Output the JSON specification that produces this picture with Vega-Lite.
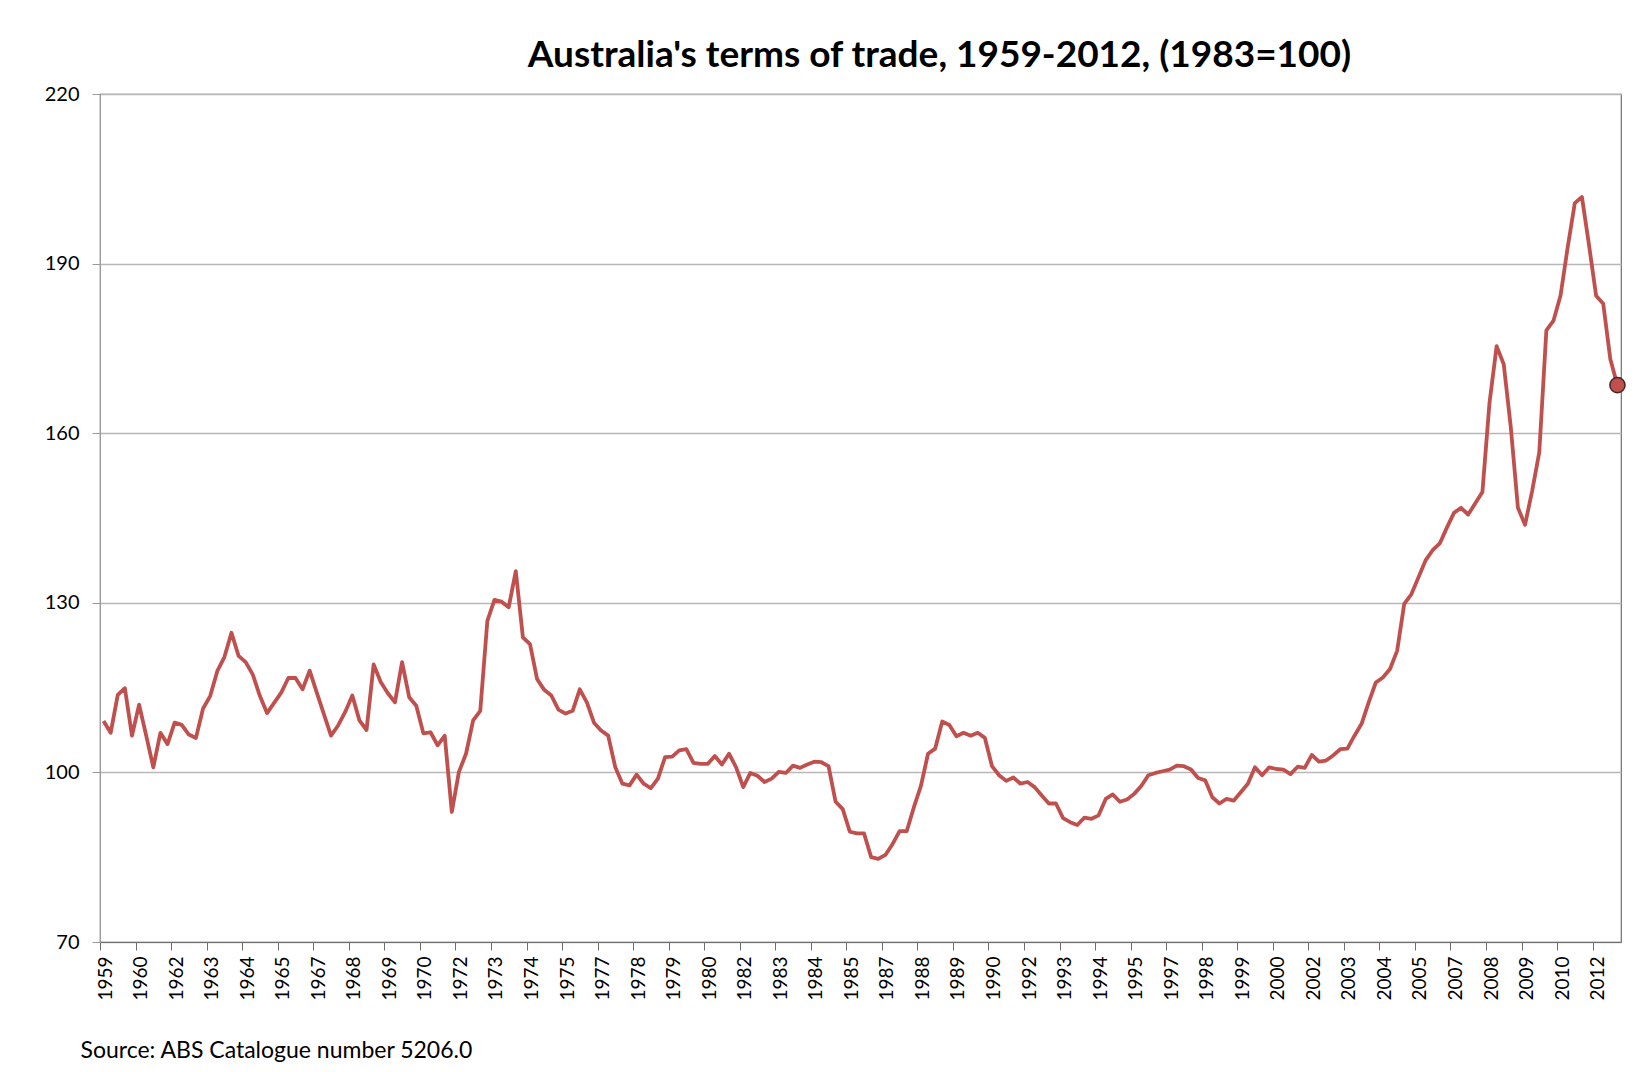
{
  "$schema": "https://vega.github.io/schema/vega-lite/v6.json",
  "width": 1521,
  "height": 848,
  "autosize": {"type": "none"},
  "padding": {"left": 100, "top": 94, "right": 28, "bottom": 130},
  "background": "white",
  "title": {"text": "Australia's terms of trade, 1959-2012, (1983=100)", "font": "Lato", "fontSize": 37, "fontWeight": "bold", "color": "#000000", "anchor": "middle", "dx": 79, "dy": 46, "offset": 26, "baseline": "alphabetic"},
  "config": {"view": {"stroke": "#6f6f6f", "strokeWidth": 1.2}, "font": "Lato"},
  "data": {"values": [
    {"q":"1959Q3","v":109.1},{"q":"1959Q4","v":107.0},{"q":"1960Q1","v":113.7},{"q":"1960Q2","v":114.9},{"q":"1960Q3","v":106.5},{"q":"1960Q4","v":112.0},{"q":"1961Q1","v":106.5},{"q":"1961Q2","v":100.9},{"q":"1961Q3","v":107.0},{"q":"1961Q4","v":105.0},
    {"q":"1962Q1","v":108.8},{"q":"1962Q2","v":108.4},{"q":"1962Q3","v":106.7},{"q":"1962Q4","v":106.1},{"q":"1963Q1","v":111.3},{"q":"1963Q2","v":113.5},{"q":"1963Q3","v":117.9},{"q":"1963Q4","v":120.4},{"q":"1964Q1","v":124.7},{"q":"1964Q2","v":120.6},
    {"q":"1964Q3","v":119.5},{"q":"1964Q4","v":117.3},{"q":"1965Q1","v":113.5},{"q":"1965Q2","v":110.5},{"q":"1965Q3","v":112.3},{"q":"1965Q4","v":114.1},{"q":"1966Q1","v":116.7},{"q":"1966Q2","v":116.7},{"q":"1966Q3","v":114.7},{"q":"1966Q4","v":118.0},
    {"q":"1967Q1","v":114.1},{"q":"1967Q2","v":110.3},{"q":"1967Q3","v":106.5},{"q":"1967Q4","v":108.3},{"q":"1968Q1","v":110.7},{"q":"1968Q2","v":113.6},{"q":"1968Q3","v":109.2},{"q":"1968Q4","v":107.5},{"q":"1969Q1","v":119.1},{"q":"1969Q2","v":116.0},
    {"q":"1969Q3","v":114.0},{"q":"1969Q4","v":112.4},{"q":"1970Q1","v":119.5},{"q":"1970Q2","v":113.3},{"q":"1970Q3","v":111.8},{"q":"1970Q4","v":106.9},{"q":"1971Q1","v":107.1},{"q":"1971Q2","v":104.8},{"q":"1971Q3","v":106.5},{"q":"1971Q4","v":93.0},
    {"q":"1972Q1","v":100.1},{"q":"1972Q2","v":103.3},{"q":"1972Q3","v":109.2},{"q":"1972Q4","v":110.9},{"q":"1973Q1","v":126.8},{"q":"1973Q2","v":130.5},{"q":"1973Q3","v":130.2},{"q":"1973Q4","v":129.2},{"q":"1974Q1","v":135.6},{"q":"1974Q2","v":123.9},
    {"q":"1974Q3","v":122.7},{"q":"1974Q4","v":116.5},{"q":"1975Q1","v":114.6},{"q":"1975Q2","v":113.6},{"q":"1975Q3","v":111.1},{"q":"1975Q4","v":110.4},{"q":"1976Q1","v":110.9},{"q":"1976Q2","v":114.7},{"q":"1976Q3","v":112.4},{"q":"1976Q4","v":108.8},
    {"q":"1977Q1","v":107.4},{"q":"1977Q2","v":106.5},{"q":"1977Q3","v":100.9},{"q":"1977Q4","v":98.0},{"q":"1978Q1","v":97.7},{"q":"1978Q2","v":99.6},{"q":"1978Q3","v":98.0},{"q":"1978Q4","v":97.2},{"q":"1979Q1","v":98.9},{"q":"1979Q2","v":102.7},
    {"q":"1979Q3","v":102.8},{"q":"1979Q4","v":103.9},{"q":"1980Q1","v":104.1},{"q":"1980Q2","v":101.7},{"q":"1980Q3","v":101.5},{"q":"1980Q4","v":101.5},{"q":"1981Q1","v":102.9},{"q":"1981Q2","v":101.4},{"q":"1981Q3","v":103.3},{"q":"1981Q4","v":100.9},
    {"q":"1982Q1","v":97.4},{"q":"1982Q2","v":99.9},{"q":"1982Q3","v":99.4},{"q":"1982Q4","v":98.3},{"q":"1983Q1","v":98.9},{"q":"1983Q2","v":100.1},{"q":"1983Q3","v":99.9},{"q":"1983Q4","v":101.2},{"q":"1984Q1","v":100.8},{"q":"1984Q2","v":101.4},
    {"q":"1984Q3","v":101.9},{"q":"1984Q4","v":101.8},{"q":"1985Q1","v":101.1},{"q":"1985Q2","v":94.8},{"q":"1985Q3","v":93.5},{"q":"1985Q4","v":89.5},{"q":"1986Q1","v":89.2},{"q":"1986Q2","v":89.2},{"q":"1986Q3","v":85.0},{"q":"1986Q4","v":84.7},
    {"q":"1987Q1","v":85.4},{"q":"1987Q2","v":87.3},{"q":"1987Q3","v":89.6},{"q":"1987Q4","v":89.6},{"q":"1988Q1","v":93.8},{"q":"1988Q2","v":97.6},{"q":"1988Q3","v":103.3},{"q":"1988Q4","v":104.2},{"q":"1989Q1","v":109.0},{"q":"1989Q2","v":108.4},
    {"q":"1989Q3","v":106.4},{"q":"1989Q4","v":107.0},{"q":"1990Q1","v":106.5},{"q":"1990Q2","v":107.0},{"q":"1990Q3","v":106.1},{"q":"1990Q4","v":101.1},{"q":"1991Q1","v":99.5},{"q":"1991Q2","v":98.5},{"q":"1991Q3","v":99.1},{"q":"1991Q4","v":98.0},
    {"q":"1992Q1","v":98.3},{"q":"1992Q2","v":97.4},{"q":"1992Q3","v":95.9},{"q":"1992Q4","v":94.5},{"q":"1993Q1","v":94.5},{"q":"1993Q2","v":91.9},{"q":"1993Q3","v":91.2},{"q":"1993Q4","v":90.7},{"q":"1994Q1","v":92.0},{"q":"1994Q2","v":91.8},
    {"q":"1994Q3","v":92.4},{"q":"1994Q4","v":95.3},{"q":"1995Q1","v":96.1},{"q":"1995Q2","v":94.8},{"q":"1995Q3","v":95.2},{"q":"1995Q4","v":96.2},{"q":"1996Q1","v":97.6},{"q":"1996Q2","v":99.5},{"q":"1996Q3","v":99.9},{"q":"1996Q4","v":100.2},
    {"q":"1997Q1","v":100.5},{"q":"1997Q2","v":101.2},{"q":"1997Q3","v":101.1},{"q":"1997Q4","v":100.5},{"q":"1998Q1","v":99.0},{"q":"1998Q2","v":98.6},{"q":"1998Q3","v":95.6},{"q":"1998Q4","v":94.5},{"q":"1999Q1","v":95.3},{"q":"1999Q2","v":95.0},
    {"q":"1999Q3","v":96.5},{"q":"1999Q4","v":98.0},{"q":"2000Q1","v":100.9},{"q":"2000Q2","v":99.5},{"q":"2000Q3","v":100.9},{"q":"2000Q4","v":100.6},{"q":"2001Q1","v":100.5},{"q":"2001Q2","v":99.7},{"q":"2001Q3","v":101.0},{"q":"2001Q4","v":100.8},
    {"q":"2002Q1","v":103.1},{"q":"2002Q2","v":101.9},{"q":"2002Q3","v":102.1},{"q":"2002Q4","v":103.0},{"q":"2003Q1","v":104.1},{"q":"2003Q2","v":104.2},{"q":"2003Q3","v":106.5},{"q":"2003Q4","v":108.6},{"q":"2004Q1","v":112.4},{"q":"2004Q2","v":115.9},
    {"q":"2004Q3","v":116.8},{"q":"2004Q4","v":118.3},{"q":"2005Q1","v":121.5},{"q":"2005Q2","v":129.8},{"q":"2005Q3","v":131.5},{"q":"2005Q4","v":134.5},{"q":"2006Q1","v":137.5},{"q":"2006Q2","v":139.3},{"q":"2006Q3","v":140.5},{"q":"2006Q4","v":143.3},
    {"q":"2007Q1","v":145.9},{"q":"2007Q2","v":146.8},{"q":"2007Q3","v":145.6},{"q":"2007Q4","v":147.6},{"q":"2008Q1","v":149.6},{"q":"2008Q2","v":165.4},{"q":"2008Q3","v":175.4},{"q":"2008Q4","v":172.2},{"q":"2009Q1","v":161.0},{"q":"2009Q2","v":146.8},
    {"q":"2009Q3","v":143.8},{"q":"2009Q4","v":149.8},{"q":"2010Q1","v":156.6},{"q":"2010Q2","v":178.2},{"q":"2010Q3","v":179.9},{"q":"2010Q4","v":184.4},{"q":"2011Q1","v":192.9},{"q":"2011Q2","v":200.7},{"q":"2011Q3","v":201.8},{"q":"2011Q4","v":193.3},
    {"q":"2012Q1","v":184.3},{"q":"2012Q2","v":182.9},{"q":"2012Q3","v":173.1},{"q":"2012Q4","v":168.5}
  ]},
  "encoding": {
    "x": {"field": "q", "type": "ordinal", "sort": "ascending",
      "scale": {"type": "point", "padding": 0.5},
      "axis": {
        "values": ["1959Q3","1960Q4","1962Q1","1963Q2","1964Q3","1965Q4","1967Q1","1968Q2","1969Q3","1970Q4","1972Q1","1973Q2","1974Q3","1975Q4","1977Q1","1978Q2","1979Q3","1980Q4","1982Q1","1983Q2","1984Q3","1985Q4","1987Q1","1988Q2","1989Q3","1990Q4","1992Q1","1993Q2","1994Q3","1995Q4","1997Q1","1998Q2","1999Q3","2000Q4","2002Q1","2003Q2","2004Q3","2005Q4","2007Q1","2008Q2","2009Q3","2010Q4","2012Q1"],
        "labelExpr": "slice(datum.value, 0, 4)",
        "labelAngle": 270, "labelFontSize": 19, "labelColor": "#000000", "labelPadding": 6,
        "tickOffset": -3.5, "labelOffset": 5, "tickSize": 8, "tickColor": "#6f6f6f", "domainColor": "#6f6f6f",
        "grid": false,
        "title": "Source: ABS Catalogue number 5206.0", "titleFontSize": 23, "titleFontWeight": "normal", "titleColor": "#000000",
        "titleAnchor": "start", "titleAlign": "left", "titleX": -20, "titleY": 108, "titleBaseline": "middle"
      }
    },
    "y": {"field": "v", "type": "quantitative",
      "scale": {"domain": [70, 220], "nice": false, "zero": false},
      "axis": {"values": [70, 100, 130, 160, 190, 220], "grid": true, "gridColor": "#b8b8b8", "gridWidth": 1.3,
        "tickSize": 8, "tickColor": "#9a9a9a", "domainColor": "#9a9a9a",
        "labelFontSize": 20, "labelColor": "#000000", "labelPadding": 13, "title": null}
    }
  },
  "layer": [
    {"mark": {"type": "line", "color": "#C0504D", "strokeWidth": 3.8, "strokeJoin": "round"}},
    {"transform": [{"filter": "datum.q === '2012Q4'"}],
     "mark": {"type": "circle", "size": 230, "fill": "#C0504D", "stroke": "#4a2323", "strokeWidth": 1.5, "opacity": 1}}
  ]
}
